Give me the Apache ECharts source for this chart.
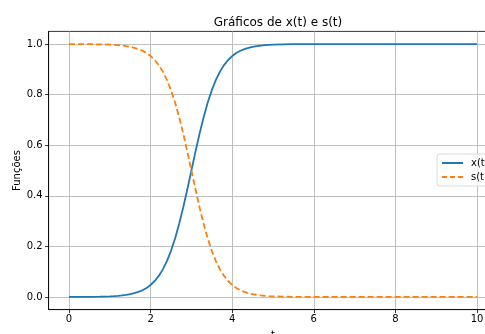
<!DOCTYPE html>
<html><head><meta charset="utf-8">
<script src="https://cdn.jsdelivr.net/npm/echarts@6/dist/echarts.min.js"></script>
<style>html,body{margin:0;padding:0;background:#fff}#c{width:485px;height:334px}</style>
</head><body><div id="c"></div>
<script>
const tValues = [0,0.25,0.5,0.75,1,1.1,1.2,1.3,1.4,1.5,1.6,1.7,1.8,1.9,2,2.1,2.2,2.3,2.4,2.5,2.6,2.7,2.8,2.9,3,3.1,3.2,3.3,3.4,3.5,3.6,3.7,3.8,3.9,4,4.1,4.2,4.3,4.4,4.5,4.6,4.7,4.8,4.9,5,5.25,5.5,5.75,6,7,8,9,10];
const xValues = [0.0001,0.0003,0.0006,0.0012,0.0025,0.0033,0.0045,0.0061,0.0082,0.011,0.0148,0.0198,0.0266,0.0356,0.0474,0.063,0.0832,0.1091,0.1419,0.1824,0.2315,0.2891,0.3543,0.4256,0.5,0.5744,0.6457,0.7109,0.7685,0.8176,0.8581,0.8909,0.9168,0.937,0.9526,0.9644,0.9734,0.9802,0.9852,0.989,0.9919,0.994,0.9956,0.9967,0.9975,0.9988,0.9995,0.9997,0.9999,1,1,1,1];
const sValues = [0.9999,0.9997,0.9994,0.9988,0.9975,0.9967,0.9955,0.9939,0.9918,0.989,0.9852,0.9802,0.9734,0.9644,0.9526,0.937,0.9168,0.8909,0.8581,0.8176,0.7685,0.7109,0.6457,0.5744,0.5,0.4256,0.3543,0.2891,0.2315,0.1824,0.1419,0.1091,0.0832,0.063,0.0474,0.0356,0.0266,0.0198,0.0148,0.011,0.0081,0.006,0.0044,0.0033,0.0025,0.0012,0.0005,0.0003,0.0001,0,0,0,0];
const xTicks = [0,2,4,6,8,10];
const yTicks = [0,0.2,0.4,0.6,0.8,1.0];
const titleText = 'Gráficos de x(t) e s(t)';
const xName = 't';
const yName = 'Funções';
const seriesNames = ['x(t)','s(t)'];

const chart = echarts.init(document.getElementById('c'), null, {renderer:'canvas'});
const font = 'DejaVu Sans';
chart.setOption({
  animation:false,
  title:{text:titleText,left:273,textAlign:'center',top:12,textStyle:{fontFamily:font,fontSize:12,fontWeight:'normal',color:'#000'}},
  grid:{left:48.6,top:31.4,width:448.8,height:278.2,outerBoundsMode:'none',containLabel:false,show:true,borderColor:'#000',borderWidth:0.8,backgroundColor:'transparent'},
  legend:{left:437,top:154,orient:'vertical',itemWidth:21,itemHeight:10,itemGap:4,
    itemStyle:{opacity:0},
    backgroundColor:'rgba(255,255,255,0.8)',borderColor:'#d0d0d0',borderWidth:0.8,borderRadius:3,padding:[4,6,4,4],
    textStyle:{fontFamily:font,fontSize:10,color:'#000',padding:[0,0,0,3]},
    data:[{name:seriesNames[0],lineStyle:{type:'solid'}},{name:seriesNames[1],lineStyle:{type:[5,3]}}]},
  xAxis:{type:'value',min:-0.5,max:10.5,name:xName,nameLocation:'middle',nameGap:21,nameMoveOverlap:false,
    nameTextStyle:{fontFamily:font,fontSize:10,color:'#000'},
    axisLine:{show:true,onZero:false,lineStyle:{color:'#000',width:0.8}},
    axisTick:{show:true,customValues:xTicks,length:3.5,lineStyle:{color:'#000',width:0.8}},
    axisLabel:{customValues:xTicks,fontFamily:font,fontSize:10,color:'#000',margin:5,formatter:v=>String(v)},
    splitLine:{show:true,lineStyle:{color:'#b0b0b0',width:0.8}}},
  yAxis:{type:'value',min:-0.05,max:1.05,name:yName,nameLocation:'middle',nameGap:26,nameMoveOverlap:false,
    nameTextStyle:{fontFamily:font,fontSize:10,color:'#000'},
    axisLine:{show:true,onZero:false,lineStyle:{color:'#000',width:0.8}},
    axisTick:{show:true,customValues:yTicks,length:3.5,lineStyle:{color:'#000',width:0.8}},
    axisLabel:{customValues:yTicks,fontFamily:font,fontSize:10,color:'#000',margin:6,formatter:v=>v.toFixed(1)},
    splitLine:{show:true,lineStyle:{color:'#b0b0b0',width:0.8}}},
  series:[
    {name:seriesNames[0],type:'line',data:tValues.map((t,i)=>[t,xValues[i]]),showSymbol:false,symbol:'none',
      lineStyle:{color:'#1f77b4',width:1.8},itemStyle:{color:'#1f77b4'}},
    {name:seriesNames[1],type:'line',data:tValues.map((t,i)=>[t,sValues[i]]),showSymbol:false,symbol:'none',
      lineStyle:{color:'#ff7f0e',width:1.8,type:[6,3]},itemStyle:{color:'#ff7f0e'}}
  ]
});
</script></body></html>
